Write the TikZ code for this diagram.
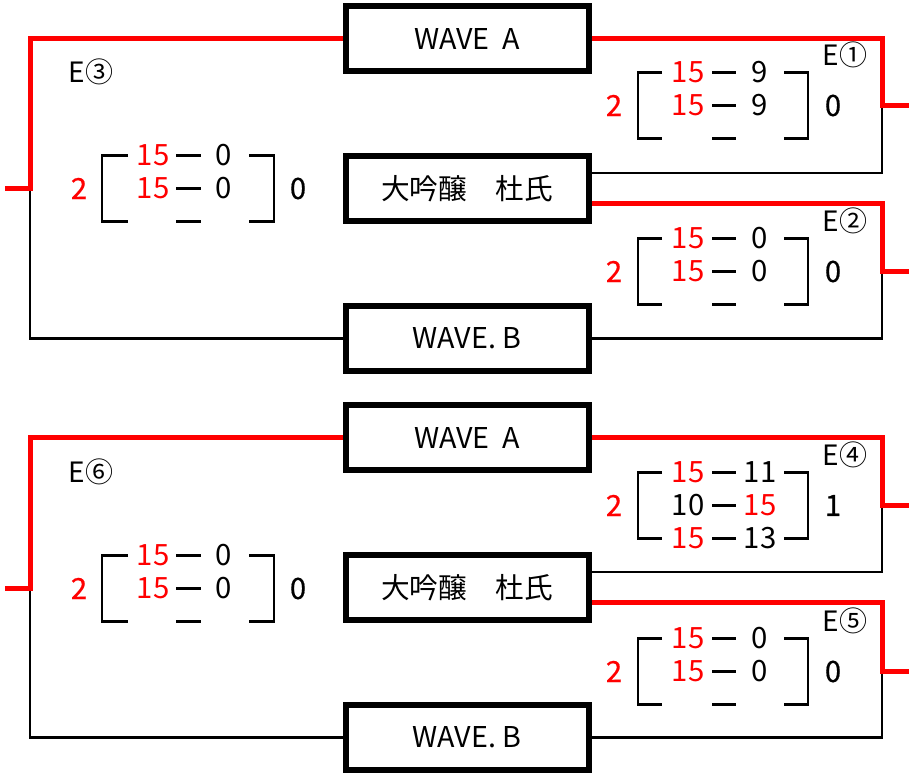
\documentclass[tikz,border=0pt]{standalone}
\usepackage{fontspec}
\setmainfont{Noto Sans CJK JP}
\newfontfamily\countfont[FakeBold=0.6]{Noto Sans CJK JP}
\usepackage{tikz}
\usetikzlibrary{positioning}
\usetikzlibrary{calc}

\tikzset{
	teamBox/.style={
		draw,
		line width=4.5pt,
		minimum width=182.25pt,
		minimum height=48.75pt,
		font=\fontsize{21.5}{24}\selectfont
	},
	winLine/.style={red, line width=3.75pt},
	loseLine/.style={black, line width=1.8pt},
	scoreFrame/.style={black, line width=2.2pt},
	setScore/.style={inner sep=0pt, font=\fontsize{22}{24}\selectfont},
	setCount/.style={inner sep=0pt, font=\fontsize{22}{24}\countfont},
	matchNo/.style={inner sep=0pt, font=\fontsize{21}{23}\selectfont}
}

\begin{document}
\begin{tikzpicture}[x=0.75pt, y=-0.75pt]

\useasboundingbox (0,0) rectangle (909,774);

% --- upper table

\node[teamBox] (waveAUpper) at (467,38.5) {WAVE\ \ A};

\node[
	teamBox,
	below=59.25pt of waveAUpper
] (daiginjoUpper) {大吟醸　杜氏};

\node[
	teamBox,
	below=59.25pt of daiginjoUpper
] (waveBUpper) {WAVE. B};

\coordinate (e3Join) at (30,188.5);
\coordinate (e3Out) at (5,188.5);
\coordinate (e1Join) at (882,105.5);
\coordinate (e1Out) at (909,105.5);
\coordinate (e2Join) at (882,271.5);
\coordinate (e2Out) at (909,271.5);

\draw[loseLine] (e3Join) |- (waveBUpper.west);
\draw[loseLine] (e1Join) |- (daiginjoUpper.7.5);
\draw[loseLine] (e2Join) |- (waveBUpper.east);

\draw[winLine] (waveAUpper.west) -| (e3Join) -- (e3Out);
\draw[winLine] (waveAUpper.east) -| (e1Join) -- (e1Out);
\draw[winLine] (daiginjoUpper.-7.5) -| (e2Join) -- (e2Out);

% E1
\node[matchNo] (e1) at (845,55) {E①};
\node[setCount, red] (e1Won) at (614,105.5) {2};
\node[setScore, red] (e1Set1a) at (688,72.5) {15};
\node[setScore] (e1Set1b) at (760,72.5) {9};
\node[setScore, red] (e1Set2a) at (688,105.5) {15};
\node[setScore] (e1Set2b) at (760,105.5) {9};
\node[setCount] (e1Lost) at (833,105.5) {0};
\draw[scoreFrame] (662,72.5) -- (638,72.5) -- (638,138.5) -- (662,138.5)
	(784,72.5) -- (808,72.5) -- (808,138.5) -- (784,138.5)
	(712,72.5) -- (736,72.5) (712,105.5) -- (736,105.5) (712,138.5) -- (736,138.5);

% E2
\node[matchNo] (e2) at (845,221) {E②};
\node[setCount, red] (e2Won) at (614,271.5) {2};
\node[setScore, red] (e2Set1a) at (688,238.5) {15};
\node[setScore] (e2Set1b) at (760,238.5) {0};
\node[setScore, red] (e2Set2a) at (688,271.5) {15};
\node[setScore] (e2Set2b) at (760,271.5) {0};
\node[setCount] (e2Lost) at (833,271.5) {0};
\draw[scoreFrame] (662,238.5) -- (638,238.5) -- (638,304.5) -- (662,304.5)
	(784,238.5) -- (808,238.5) -- (808,304.5) -- (784,304.5)
	(712,238.5) -- (736,238.5) (712,271.5) -- (736,271.5) (712,304.5) -- (736,304.5);

% E3
\node[matchNo] (e3) at (91,71.5) {E③};
\node[setCount, red] (e3Won) at (79,188.5) {2};
\node[setScore, red] (e3Set1a) at (153,155.5) {15};
\node[setScore] (e3Set1b) at (224,155.5) {0};
\node[setScore, red] (e3Set2a) at (153,188.5) {15};
\node[setScore] (e3Set2b) at (224,188.5) {0};
\node[setCount] (e3Lost) at (298,188.5) {0};
\draw[scoreFrame] (128,155.5) -- (102,155.5) -- (102,221.5) -- (128,221.5)
	(249,155.5) -- (274,155.5) -- (274,221.5) -- (249,221.5)
	(176,155.5) -- (201,155.5) (176,188.5) -- (201,188.5) (176,221.5) -- (201,221.5);

% --- lower table

\node[
	teamBox,
	below=21pt of waveBUpper
] (waveALower) {WAVE\ \ A};

\node[
	teamBox,
	below=59.25pt of waveALower
] (daiginjoLower) {大吟醸　杜氏};

\node[
	teamBox,
	below=59.25pt of daiginjoLower
] (waveBLower) {WAVE. B};

\coordinate (e6Join) at (30,588.5);
\coordinate (e6Out) at (5,588.5);
\coordinate (e4Join) at (882,505.5);
\coordinate (e4Out) at (909,505.5);
\coordinate (e5Join) at (882,671.5);
\coordinate (e5Out) at (909,671.5);

\draw[loseLine] (e6Join) |- (waveBLower.west);
\draw[loseLine] (e4Join) |- (daiginjoLower.7.5);
\draw[loseLine] (e5Join) |- (waveBLower.east);

\draw[winLine] (waveALower.west) -| (e6Join) -- (e6Out);
\draw[winLine] (waveALower.east) -| (e4Join) -- (e4Out);
\draw[winLine] (daiginjoLower.-7.5) -| (e5Join) -- (e5Out);

% E4
\node[matchNo] (e4) at (845,455) {E④};
\node[setCount, red] (e4Won) at (614,505.5) {2};
\node[setScore, red] (e4Set1a) at (688,472.5) {15};
\node[setScore] (e4Set1b) at (760,472.5) {11};
\node[setScore] (e4Set2a) at (688,505.5) {10};
\node[setScore, red] (e4Set2b) at (760,505.5) {15};
\node[setScore, red] (e4Set3a) at (688,538.5) {15};
\node[setScore] (e4Set3b) at (760,538.5) {13};
\node[setCount] (e4Lost) at (833,505.5) {1};
\draw[scoreFrame] (662,472.5) -- (638,472.5) -- (638,538.5) -- (662,538.5)
	(784,472.5) -- (808,472.5) -- (808,538.5) -- (784,538.5)
	(712,472.5) -- (736,472.5) (712,505.5) -- (736,505.5) (712,538.5) -- (736,538.5);

% E5
\node[matchNo] (e5) at (845,621) {E⑤};
\node[setCount, red] (e5Won) at (614,671.5) {2};
\node[setScore, red] (e5Set1a) at (688,638.5) {15};
\node[setScore] (e5Set1b) at (760,638.5) {0};
\node[setScore, red] (e5Set2a) at (688,671.5) {15};
\node[setScore] (e5Set2b) at (760,671.5) {0};
\node[setCount] (e5Lost) at (833,671.5) {0};
\draw[scoreFrame] (662,638.5) -- (638,638.5) -- (638,704.5) -- (662,704.5)
	(784,638.5) -- (808,638.5) -- (808,704.5) -- (784,704.5)
	(712,638.5) -- (736,638.5) (712,671.5) -- (736,671.5) (712,704.5) -- (736,704.5);

% E6
\node[matchNo] (e6) at (91,471.5) {E⑥};
\node[setCount, red] (e6Won) at (79,588.5) {2};
\node[setScore, red] (e6Set1a) at (153,555.5) {15};
\node[setScore] (e6Set1b) at (224,555.5) {0};
\node[setScore, red] (e6Set2a) at (153,588.5) {15};
\node[setScore] (e6Set2b) at (224,588.5) {0};
\node[setCount] (e6Lost) at (298,588.5) {0};
\draw[scoreFrame] (128,555.5) -- (102,555.5) -- (102,621.5) -- (128,621.5)
	(249,555.5) -- (274,555.5) -- (274,621.5) -- (249,621.5)
	(176,555.5) -- (201,555.5) (176,588.5) -- (201,588.5) (176,621.5) -- (201,621.5);

\end{tikzpicture}
\end{document}
